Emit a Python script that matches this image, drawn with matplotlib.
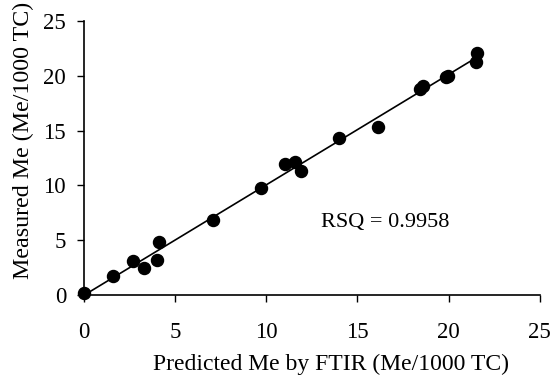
import numpy as np
import matplotlib
matplotlib.use('Agg')
import matplotlib.pyplot as plt

plt.rcParams['font.family'] = ['Liberation Serif', 'DejaVu Serif']

# predicted (FTIR) vs measured Me per 1000 TC
predicted = [0.0, 1.6, 2.67, 3.3, 3.98, 4.1, 7.09, 9.7, 11.02, 11.57, 11.88,
             14.0, 16.1, 18.42, 18.6, 19.88, 19.97, 21.49, 21.56]
measured = [0.2, 1.76, 3.1, 2.43, 3.19, 4.87, 6.84, 9.79, 11.95, 12.1, 11.3,
            14.3, 15.36, 18.77, 19.07, 19.86, 19.98, 21.29, 22.1]
ticks = [0, 5, 10, 15, 20, 25]
rsq_text = 'RSQ = 0.9958'

fig = plt.figure(figsize=(5.53, 3.75), dpi=100)
ax = fig.add_axes([0.152, 0.213, 0.824, 0.731])

# fitted line
slope, intercept = np.polyfit(predicted, measured, 1)
xs = np.array([0, max(predicted)])
ax.plot(xs, slope * xs + intercept, color='black', lw=1.2, zorder=2)

ax.scatter(predicted, measured, s=75, color='black', zorder=3, clip_on=False)

ax.set_xlim(0, 25)
ax.set_ylim(0, 25)
ax.set_xticks(ticks)
ax.set_yticks(ticks)
ax.tick_params(direction='out', length=5, width=1, labelsize=16.5)
ax.tick_params(axis='x', pad=14)
ax.tick_params(axis='y', pad=8)
for side in ['top', 'right']:
    ax.spines[side].set_visible(False)
for side in ['left', 'bottom']:
    ax.spines[side].set_linewidth(1.2)

ax.set_xlabel('Predicted Me by FTIR (Me/1000 TC)', fontsize=17)
ax.set_ylabel('Measured Me (Me/1000 TC)', fontsize=17.3)
ax.xaxis.set_label_coords(0.542, -0.214)
ax.yaxis.set_label_coords(-0.134, 0.565)
ax.yaxis.label.set_va('center')

ax.text(16.5, 6.6, rsq_text, fontsize=16, ha='center', va='center')

fig.savefig('out.png', dpi=100)
